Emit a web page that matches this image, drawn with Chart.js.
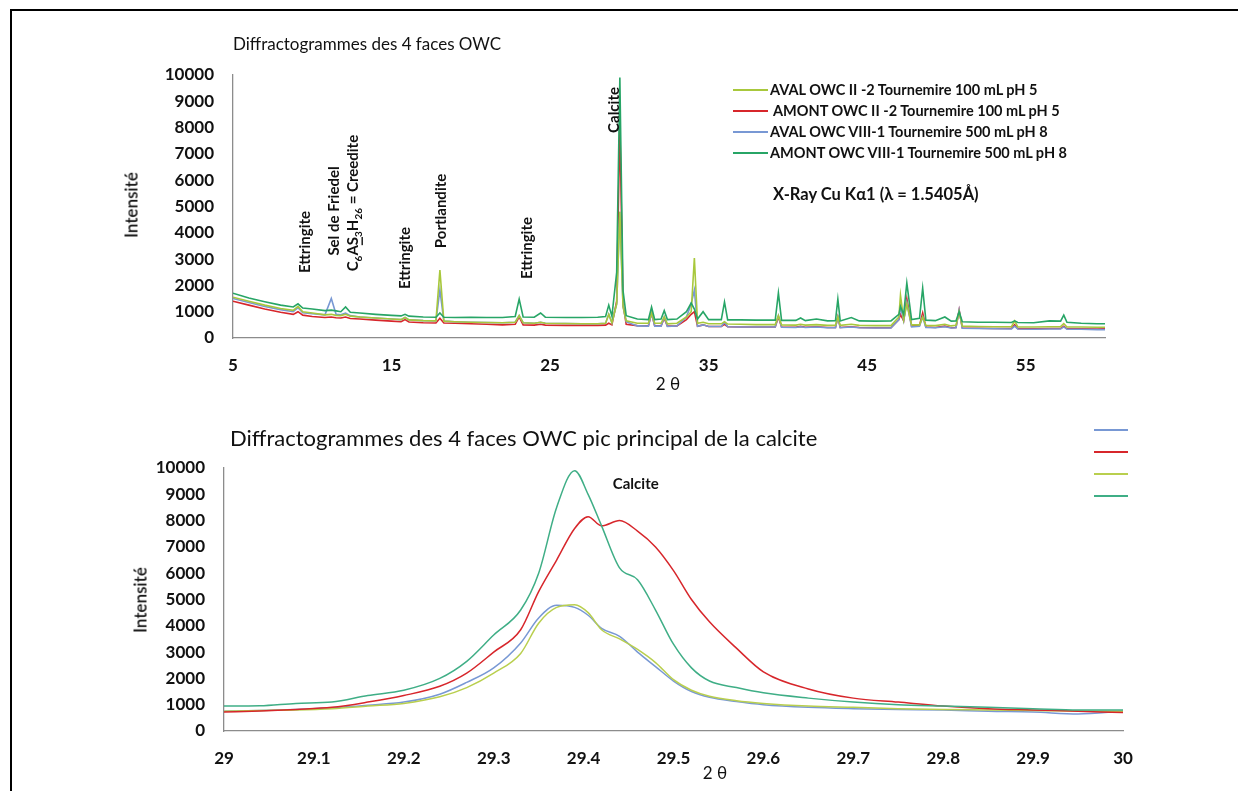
<!DOCTYPE html>
<html>
<head>
<meta charset="utf-8">
<script src="https://cdn.jsdelivr.net/npm/chart.js@4.4.1/dist/chart.umd.min.js"></script>
<style>
  body { margin: 0; background: #fff; font-family: Lato, "Open Sans", sans-serif; color: #111; }
  #page { position: relative; width: 1238px; height: 791px; overflow: hidden; background: #fff; }
  #frame { position: absolute; left: 10px; top: 9px; width: 1400px; height: 1000px; border: 2px solid #000; }
  canvas { position: absolute; left: 0; }
  #topChart { top: 0; }
  #bottomChart { top: 400px; }
  .title { position: absolute; white-space: nowrap; transform: translateY(-50%); }
  .ytitle { position: absolute; font-size: 17px; font-weight: 600; white-space: nowrap; transform: translate(-50%, -50%) rotate(-90deg); }
  .xtitle { position: absolute; font-size: 17px; white-space: nowrap; transform: translate(-50%, -50%); }
  .legend { position: absolute; font-weight: 700; font-size: 14.5px; white-space: nowrap; }
  .row { height: 21px; display: flex; align-items: center; }
  .swatch { width: 35px; height: 2px; margin-right: 2px; flex: none; }
  .note { position: absolute; font-weight: 700; font-size: 16.5px; white-space: nowrap; transform: translateY(-50%); }
  .mini { position: absolute; width: 34px; height: 2px; }
</style>
</head>
<body>
<div id="page">
  <div id="frame"></div>
  <canvas id="topChart" width="1238" height="400"></canvas>
  <canvas id="bottomChart" width="1238" height="391"></canvas>

  <div class="title" style="left:233px; top:43px; font-size:17px;">Diffractogrammes des 4 faces OWC</div>
  <div class="ytitle" style="left:131px; top:205px;">Intensité</div>
  <div class="xtitle" style="left:668px; top:383px;">2 θ</div>

  <div class="legend" style="left:733px; top:79px;">
    <div class="row"><span class="swatch" style="background:#a8c83c"></span>AVAL OWC II -2 Tournemire 100 mL pH 5</div>
    <div class="row"><span class="swatch" style="background:#d7262b"></span>&nbsp;AMONT OWC II -2 Tournemire 100 mL pH 5</div>
    <div class="row"><span class="swatch" style="background:#7898d4"></span>AVAL OWC VIII-1 Tournemire 500 mL pH 8</div>
    <div class="row"><span class="swatch" style="background:#27a566"></span>AMONT OWC VIII-1 Tournemire 500 mL pH 8</div>
  </div>
  <div class="note" style="left:773px; top:194px;">X-Ray Cu Kα1 (λ = 1.5405Å)</div>

  <div class="title" style="left:230px; top:437px; font-size:22px;">Diffractogrammes des 4 faces OWC pic principal de la calcite</div>
  <div class="ytitle" style="left:140px; top:600px;">Intensité</div>
  <div class="xtitle" style="left:715px; top:772px;">2 θ</div>

  <div class="mini" style="left:1094px; top:429px; background:#7898d4"></div>
  <div class="mini" style="left:1094px; top:451px; background:#d7262b"></div>
  <div class="mini" style="left:1094px; top:473px; background:#b9cf4e"></div>
  <div class="mini" style="left:1094px; top:495px; background:#3fae86"></div>
</div>

<script>
// ---- full pattern 5-60 deg (top chart) ----
const twoTheta = [5, 6, 7, 8, 8.8, 9.1, 9.4, 10, 10.8, 11.2,
  11.5, 11.8, 12.1, 12.4, 13, 14, 15, 15.6, 15.85, 16.1,
  17, 17.8, 18.05, 18.3, 19, 20, 21, 22, 22.8, 23.05,
  23.3, 24, 24.4, 24.7, 26, 27, 28, 28.5, 28.7, 28.9,
  29.2, 29.4, 29.6, 29.8, 30.5, 31.2, 31.4, 31.6, 32.0, 32.2,
  32.4, 33.0, 33.6, 33.9, 34.1, 34.3, 34.65, 35.0, 35.8, 36.0,
  36.2, 37, 38, 39.2, 39.4, 39.6, 40.5, 40.8, 41.1, 41.8,
  42.5, 43.0, 43.15, 43.3, 44.0, 44.5, 45.5, 46.5, 47.0, 47.1,
  47.3, 47.5, 47.8, 48.3, 48.5, 48.7, 49.3, 49.9, 50.3, 50.6,
  50.8, 51.0, 52, 53, 54.1, 54.3, 54.5, 55.5, 56.5, 57.2,
  57.4, 57.6, 58.5, 59.5, 60];

const avalII = [1550, 1400, 1250, 1120, 1050, 1200, 1000, 950, 880, 900,
  860, 850, 900, 830, 800, 760, 720, 700, 780, 690,
  660, 650, 2580, 640, 620, 600, 590, 580, 600, 850,
  580, 560, 600, 560, 550, 540, 540, 560, 900, 580,
  1300, 4800, 1200, 650, 560, 560, 950, 560, 560, 800,
  540, 560, 800, 1000, 3040, 560, 600, 540, 540, 620,
  530, 520, 510, 510, 850, 500, 490, 520, 490, 510,
  480, 490, 800, 480, 520, 480, 470, 470, 800, 1630,
  700, 1300, 500, 500, 800, 480, 470, 520, 460, 480,
  1000, 450, 440, 430, 430, 650, 420, 420, 430, 430,
  550, 420, 420, 410, 410];

const amontII = [1400, 1250, 1100, 980, 900, 1000, 870, 820, 780, 800,
  770, 760, 800, 740, 720, 680, 640, 620, 700, 610,
  580, 570, 750, 570, 560, 540, 520, 500, 520, 800,
  500, 490, 520, 490, 480, 480, 480, 490, 560, 500,
  1400, 8100, 1300, 520, 470, 460, 950, 460, 460, 750,
  450, 460, 700, 900, 1000, 450, 500, 440, 440, 520,
  430, 420, 420, 420, 800, 420, 410, 440, 410, 430,
  400, 400, 800, 400, 430, 400, 390, 390, 700, 900,
  650, 1500, 450, 480, 950, 420, 400, 450, 390, 400,
  1060, 380, 370, 360, 360, 500, 350, 350, 360, 360,
  450, 350, 350, 340, 350];

const avalVIII = [1500, 1350, 1200, 1080, 1000, 1150, 960, 920, 880, 1500,
  900, 880, 950, 850, 800, 760, 720, 700, 780, 690,
  660, 650, 1830, 640, 620, 600, 590, 580, 600, 850,
  580, 560, 600, 560, 550, 540, 540, 560, 900, 580,
  1300, 4800, 1200, 620, 460, 450, 950, 450, 450, 800,
  440, 460, 800, 1300, 1820, 450, 500, 440, 440, 600,
  430, 420, 420, 420, 850, 410, 400, 430, 400, 420,
  390, 390, 800, 390, 420, 390, 380, 380, 700, 1200,
  650, 1350, 420, 450, 800, 400, 390, 430, 380, 390,
  1060, 370, 360, 350, 340, 450, 340, 330, 340, 340,
  420, 330, 330, 320, 320];

const amontVIII = [1700, 1520, 1380, 1250, 1180, 1300, 1140, 1100, 1040, 1060,
  1030, 1000, 1180, 980, 950, 900, 860, 840, 900, 830,
  800, 790, 950, 790, 780, 790, 780, 780, 820, 1480,
  800, 790, 950, 790, 780, 780, 790, 820, 1250, 830,
  2500, 9900, 1800, 850, 720, 700, 1180, 700, 720, 1040,
  700, 720, 1000, 1330, 1100, 720, 1000, 700, 700, 1370,
  690, 690, 680, 680, 1710, 670, 670, 760, 660, 720,
  650, 660, 1480, 650, 780, 650, 640, 650, 900, 1200,
  900, 2090, 700, 750, 1900, 680, 660, 800, 640, 650,
  1000, 620, 600, 600, 590, 650, 590, 580, 650, 640,
  870, 600, 560, 540, 540];

// ---- zoom on the main calcite peak (bottom chart) ----
const twoThetaPeak = [29.00, 29.04, 29.08, 29.12, 29.16, 29.20, 29.24, 29.27, 29.30, 29.33,
  29.35, 29.37, 29.39, 29.405, 29.42, 29.44, 29.46, 29.48, 29.50, 29.52,
  29.54, 29.57, 29.60, 29.65, 29.70, 29.75, 29.80, 29.85, 29.90, 29.95, 30.00];

const peakAvalVIII = [750, 780, 820, 880, 980, 1100, 1400, 1850, 2400, 3350,
  4300, 4780, 4700, 4400, 3900, 3600, 3000, 2450, 1900, 1500,
  1280, 1120, 1000, 900, 850, 820, 800, 750, 720, 650, 750];
const peakAmontII = [720, 760, 820, 900, 1100, 1350, 1700, 2200, 3000, 3850,
  5300, 6500, 7700, 8150, 7800, 8000, 7600, 7000, 6100, 5000,
  4150, 3150, 2250, 1600, 1250, 1100, 950, 850, 800, 750, 700];
const peakAvalII = [750, 780, 800, 850, 950, 1050, 1300, 1650, 2200, 2950,
  4100, 4700, 4800, 4500, 3850, 3500, 3100, 2600, 1950, 1550,
  1320, 1150, 1050, 950, 900, 850, 820, 800, 780, 760, 750];
const peakAmontVIII = [950, 960, 1050, 1100, 1350, 1550, 2000, 2650, 3650, 4600,
  6000, 8500, 9900, 9000, 7800, 6200, 5750, 4600, 3300, 2400,
  1900, 1650, 1450, 1250, 1100, 1000, 950, 900, 850, 800, 800];

// tick labels
const topXTicks = [5, 15, 25, 35, 45, 55];
const bottomXTicks = [29, 29.1, 29.2, 29.3, 29.4, 29.5, 29.6, 29.7, 29.8, 29.9, 30];
const yTicks = [0, 1000, 2000, 3000, 4000, 5000, 6000, 7000, 8000, 9000, 10000];

// peak annotations (data coordinates)
const topNotes = [
  { text: 'Ettringite', x: 9.55, y: 3650 },
  { text: 'Sel de Friedel', x: 11.37, y: 4830 },
  { parts: [['C'], ['6', 'sub'], ['A'], ['S', 'under'], ['3', 'sub'], ['H'], ['26', 'sub'], [' = Creedite']], x: 12.6, y: 5130 },
  { text: 'Ettringite', x: 15.85, y: 3040 },
  { text: 'Portlandite', x: 18.12, y: 4830 },
  { text: 'Ettringite', x: 23.55, y: 3420 },
  { text: 'Calcite', x: 29.04, y: 8670 }
];
const bottomNotes = [
  { text: 'Calcite', x: 29.458, y: 9390, flat: true }
];

const colors = { avalII: '#a8c83c', amontII: '#d7262b', avalVIII: '#7898d4', amontVIII: '#27a566' };
const colorsPeak = { avalII: '#b9cf4e', amontII: '#d7262b', avalVIII: '#7898d4', amontVIII: '#3fae86' };

const tickFont = { family: 'Lato', size: 17, weight: 'bold' };

// draws the peak names; rotated unless the note is flat
function noteLabels(notes) {
  return {
    id: 'noteLabels',
    afterDatasetsDraw(chart) {
      const ctx = chart.ctx;
      const xs = chart.scales.x, ys = chart.scales.y;
      notes.forEach(n => {
        const parts = n.parts || [[n.text]];
        const big = 'bold 15px Lato', small = 'bold 10px Lato';
        ctx.save();
        ctx.translate(xs.getPixelForValue(n.x), ys.getPixelForValue(n.y));
        if (n.flat !== true) ctx.rotate(-Math.PI / 2);
        ctx.fillStyle = '#111';
        ctx.textBaseline = 'middle';
        ctx.textAlign = 'left';
        let total = 0;
        parts.forEach(p => { ctx.font = p[1] === 'sub' ? small : big; total += ctx.measureText(p[0]).width; });
        let cur = -total / 2;
        parts.forEach(p => {
          ctx.font = p[1] === 'sub' ? small : big;
          const w = ctx.measureText(p[0]).width;
          ctx.fillText(p[0], cur, p[1] === 'sub' ? 5 : 0);
          if (p[1] === 'under') ctx.fillRect(cur, 8, w, 1.4);
          cur += w;
        });
        ctx.restore();
      });
    }
  };
}

function series(xs, ys, color, order, width) {
  return {
    data: xs.map((x, i) => ({ x: x, y: ys[i] })),
    borderColor: color,
    borderWidth: width,
    pointRadius: 0,
    order: order
  };
}

function axes(xMin, xMax, xTicks, xLabel, yWidth, xHeight) {
  return {
    x: {
      type: 'linear', min: xMin, max: xMax,
      grid: { display: false, drawTicks: false },
      border: { display: true, color: '#8c8c8c', width: 1.3 },
      afterBuildTicks: s => { s.ticks = xTicks.map(v => ({ value: v })); },
      afterFit: s => { s.height = xHeight; },
      ticks: { padding: 17, color: '#111', font: tickFont, maxRotation: 0, autoSkip: false, callback: xLabel }
    },
    y: {
      min: 0, max: 10000,
      grid: { display: false, drawTicks: false },
      border: { display: true, color: '#8c8c8c', width: 1.3 },
      afterBuildTicks: s => { s.ticks = yTicks.map(v => ({ value: v })); },
      afterFit: s => { s.width = yWidth; },
      ticks: { padding: 19, color: '#111', font: tickFont, autoSkip: false, callback: v => String(v) }
    }
  };
}

// Top chart: whole diffractogram
new Chart(document.getElementById('topChart'), {
  type: 'line',
  data: {
    datasets: [
      series(twoTheta, avalII, colors.avalII, 1, 1.6),
      series(twoTheta, amontII, colors.amontII, 3, 1.6),
      series(twoTheta, avalVIII, colors.avalVIII, 2, 1.6),
      series(twoTheta, amontVIII, colors.amontVIII, 0, 1.6)
    ]
  },
  options: {
    responsive: false,
    animation: false,
    layout: { padding: { left: 0, right: 133, top: 75, bottom: 0 } },
    elements: { line: { tension: 0 } },
    plugins: { legend: { display: false }, tooltip: { enabled: false } },
    scales: axes(5, 60, topXTicks, v => String(v), 233, 62)
  },
  plugins: [noteLabels(topNotes)]
});

// Bottom chart: main calcite peak
new Chart(document.getElementById('bottomChart'), {
  type: 'line',
  data: {
    datasets: [
      series(twoThetaPeak, peakAvalVIII, colorsPeak.avalVIII, 3, 1.5),
      series(twoThetaPeak, peakAmontII, colorsPeak.amontII, 1, 1.5),
      series(twoThetaPeak, peakAvalII, colorsPeak.avalII, 2, 1.5),
      series(twoThetaPeak, peakAmontVIII, colorsPeak.amontVIII, 0, 1.5)
    ]
  },
  options: {
    responsive: false,
    animation: false,
    layout: { padding: { left: 0, right: 115, top: 68, bottom: 0 } },
    elements: { line: { cubicInterpolationMode: 'monotone' } },
    plugins: { legend: { display: false }, tooltip: { enabled: false } },
    scales: axes(29, 30, bottomXTicks, v => String(Math.round(v * 10) / 10), 224, 60)
  },
  plugins: [noteLabels(bottomNotes)]
});
</script>
</body>
</html>
